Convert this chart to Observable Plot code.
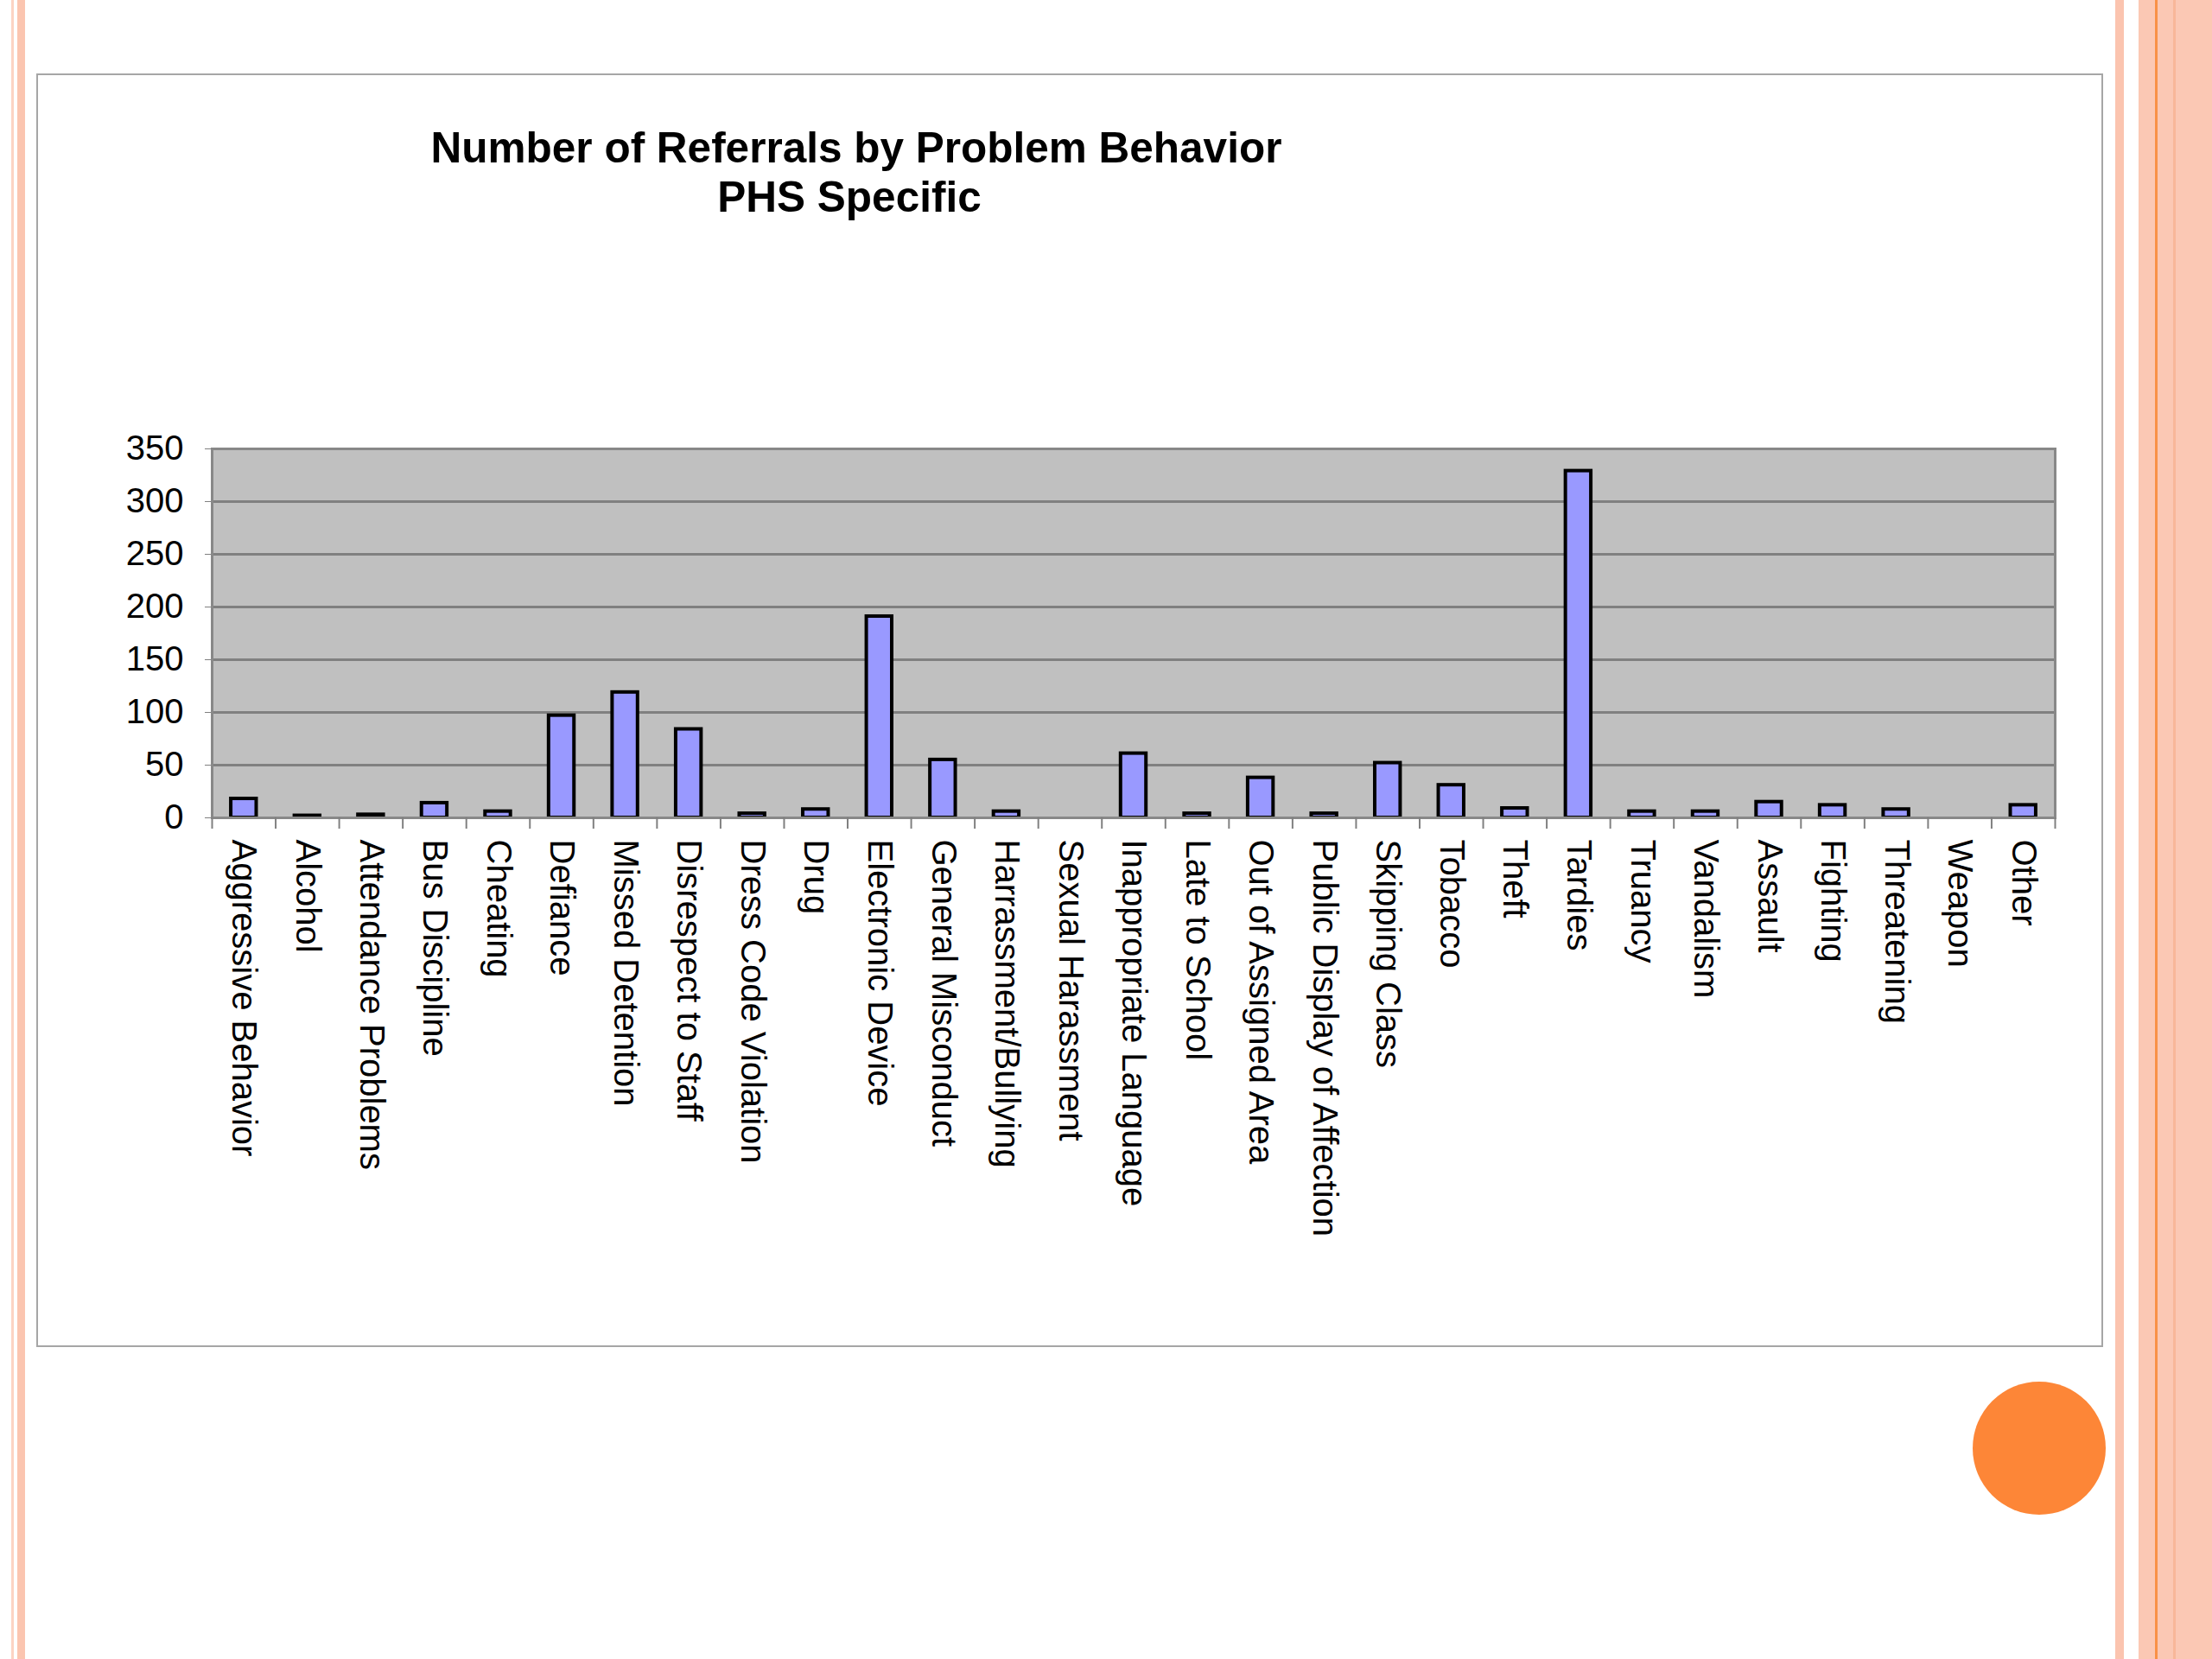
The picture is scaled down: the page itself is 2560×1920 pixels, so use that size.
<!DOCTYPE html>
<html>
<head>
<meta charset="utf-8">
<script src="https://cdn.jsdelivr.net/npm/d3@7"></script>
<script src="https://cdn.jsdelivr.net/npm/@observablehq/plot@0.6"></script>
<style>
  html, body { margin: 0; padding: 0; background: #ffffff; }
  body { width: 2560px; height: 1920px; position: relative; overflow: hidden; font-family: "Liberation Sans", Arial, sans-serif; }
  .strip { position: absolute; top: 0; height: 1920px; }
  #box { position: absolute; left: 42px; top: 85px; width: 2388px; height: 1470px; border: 2px solid #a6a6a6; box-sizing: content-box; }
  #title { position: absolute; left: 291px; width: 1400px; top: 142px; text-align: center; font-weight: bold; font-size: 49.5px; line-height: 57px; color: #000; }
  #title .l2 { position: relative; left: -8px; }
  #chart { position: absolute; left: 0; top: 480px; }
  #dot { position: absolute; left: 2283px; top: 1599px; width: 154px; height: 154px; border-radius: 50%; background: #fd8637; }
</style>
</head>
<body>
<div class="strip" style="left:13px;width:3px;background:#fcd3c3"></div>
<div class="strip" style="left:20px;width:9px;background:#fbc5b0"></div>
<div class="strip" style="left:2448px;width:10px;background:#fbc4af"></div>
<div class="strip" style="left:2475px;width:85px;background:#fbc8b4"></div>
<div class="strip" style="left:2494px;width:3px;background:#f99146"></div>
<div class="strip" style="left:2515px;width:3px;background:#f8b799"></div>
<div id="box"></div>
<div id="title">Number of Referrals by Problem Behavior<br><span class="l2">PHS Specific</span></div>
<div id="dot"></div>
<div id="chart"></div>
<script>
const categories = [
  "Aggressive Behavior", "Alcohol", "Attendance Problems", "Bus Discipline", "Cheating",
  "Defiance", "Missed Detention", "Disrespect to Staff", "Dress Code Violation", "Drug",
  "Electronic Device", "General Misconduct", "Harrassment/Bullying", "Sexual Harassment",
  "Inappropriate Language", "Late to School", "Out of Assigned Area", "Public Display of Affection",
  "Skipping Class", "Tobacco", "Theft", "Tardies", "Truancy", "Vandalism", "Assault",
  "Fighting", "Threatening", "Weapon", "Other"
];
const referrals = [18, 2, 3, 14, 6, 97, 119, 84, 4, 8, 191, 55, 6, 0, 61, 4, 38, 4, 52, 31, 9, 329, 6, 6, 15, 12, 8, 0, 12];
const yTicks = [0, 50, 100, 150, 200, 250, 300, 350];

const data = categories.map((c, i) => ({category: c, value: referrals[i]}));

const W = 2440, H = 1000;
const mL = 245, mR = 62, mT = 39, mB = 534;
const plotW = W - mL - mR;
const plotH = H - mT - mB;
const step = plotW / categories.length;
const tickLenData = -13 * 350 / plotH;

const chart = Plot.plot({
  width: W,
  height: H,
  marginLeft: mL,
  marginRight: mR,
  marginTop: mT,
  marginBottom: mB,
  style: {fontFamily: "Liberation Sans, Arial, sans-serif", fontSize: "40px", color: "#000", background: "transparent", overflow: "visible"},
  x: {type: "band", domain: categories, paddingInner: 0.6, paddingOuter: 0.3, round: false, label: null},
  y: {domain: [0, 350], label: null},
  marks: [
    Plot.frame({fill: "#c0c0c0", stroke: "none"}),
    Plot.ruleY(yTicks, {y: d => d, stroke: "#808080", strokeWidth: 3}),
    Plot.axisY({ticks: yTicks, tickSize: 8, tickPadding: 25, stroke: "#808080", fontSize: 40, tickFormat: d => String(d)}),
    Plot.barY(data.filter(d => d.value > 0), {x: "category", y: "value", fill: "#9999ff", stroke: "#000", strokeWidth: 4}),
    Plot.frame({stroke: "#888888", strokeWidth: 3}),
    Plot.ruleX(categories, {x: d => d, y1: 0, y2: tickLenData, dx: -step / 2, stroke: "#808080", strokeWidth: 2}),
    Plot.ruleX(categories.slice(-1), {x: d => d, y1: 0, y2: tickLenData, dx: step / 2, stroke: "#808080", strokeWidth: 2}),
    Plot.axisX({tickSize: 0, tickPadding: 25, tickRotate: 90, fontSize: 40, label: null})
  ]
});
document.getElementById("chart").appendChild(chart);
</script>
</body>
</html>
